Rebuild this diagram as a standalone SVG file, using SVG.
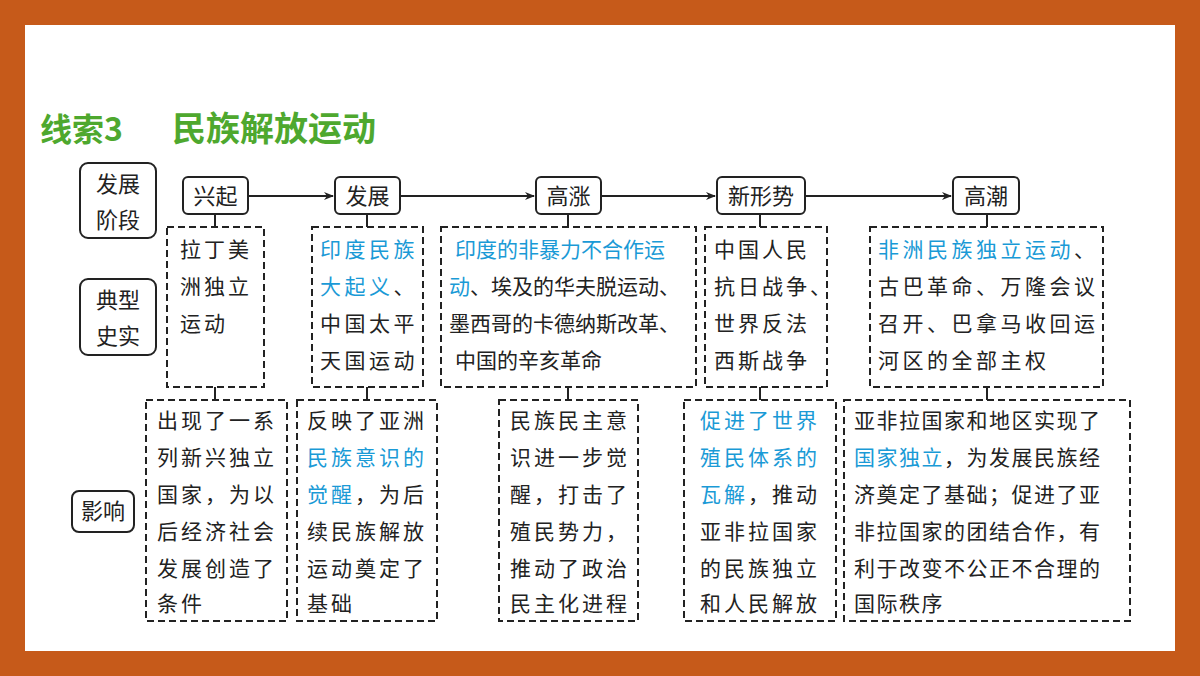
<svg xmlns="http://www.w3.org/2000/svg" width="1200" height="676" viewBox="0 0 1200 676">
<defs>
<style>
.t{font-family:"Noto Sans CJK SC","Liberation Sans",sans-serif;font-size:21px;fill:#222}
.b{fill:#1A9AD6}
.solid{fill:#fff;stroke:#222;stroke-width:2}
.dash{fill:#fff;stroke:#222;stroke-width:2;stroke-dasharray:7 4}
.ln{stroke:#222;stroke-width:2;fill:none}
.h{font-family:"Noto Sans CJK SC","Liberation Sans",sans-serif;font-size:22px;fill:#222;text-anchor:middle}
</style>
<marker id="ar" markerWidth="10" markerHeight="8" refX="9" refY="4" orient="auto" markerUnits="userSpaceOnUse"><path d="M0,0 L10,4 L0,8 L3,4 z" fill="#222"/></marker>
</defs>
<rect width="1200" height="676" fill="#C65A1A"/>
<rect x="25" y="25" width="1150" height="626" fill="#fff"/>
<text x="40" y="141" font-family="Noto Sans CJK SC,sans-serif" font-size="32" font-weight="bold" fill="#4EA82E">线索3</text>
<text x="172" y="141" font-family="Noto Sans CJK SC,sans-serif" font-size="34" font-weight="bold" fill="#4EA82E">民族解放运动</text>
<g id="connectors">
<path class="ln" d="M248,196 H333" marker-end="url(#ar)"/>
<path class="ln" d="M400,196 H534" marker-end="url(#ar)"/>
<path class="ln" d="M601,196 H715" marker-end="url(#ar)"/>
<path class="ln" d="M805,196 H951" marker-end="url(#ar)"/>
<path class="ln" d="M215,214 V227 M367,214 V227 M568,214 V227 M760,214 V227 M987,214 V227"/>
<path class="ln" d="M215,387 V400 M367,387 V400 M568,387 V400 M760,387 V400 M987,387 V400"/>
</g>
<g id="lab1"><rect class="solid" x="80" y="163" width="76" height="75" rx="8"/><text class="h" x="118" y="192">发展</text><text class="h" x="118" y="228">阶段</text></g>
<g id="lab2"><rect class="solid" x="80" y="279" width="76" height="76" rx="8"/><text class="h" x="118" y="308">典型</text><text class="h" x="118" y="344">史实</text></g>
<g id="lab3"><rect class="solid" x="72" y="491" width="62" height="41" rx="7"/><text class="h" x="103" y="519">影响</text></g>
<g id="s1"><rect class="solid" x="183" y="177" width="65" height="37" rx="5"/><text class="h" x="215.5" y="204">兴起</text></g>
<g id="s2"><rect class="solid" x="335" y="177" width="65" height="37" rx="5"/><text class="h" x="367.5" y="204">发展</text></g>
<g id="s3"><rect class="solid" x="536" y="177" width="65" height="37" rx="5"/><text class="h" x="568.5" y="204">高涨</text></g>
<g id="s4"><rect class="solid" x="717" y="177" width="88" height="37" rx="5"/><text class="h" x="761" y="204">新形势</text></g>
<g id="s5"><rect class="solid" x="953" y="177" width="66" height="37" rx="5"/><text class="h" x="986" y="204">高潮</text></g>
<g id="f1"><rect class="dash" x="167" y="227" width="97" height="160"/>
<text class="t" letter-spacing="3"><tspan x="180" y="257">拉丁美</tspan><tspan x="180" y="294">洲独立</tspan><tspan x="180" y="331">运动</tspan></text></g>
<g id="f2"><rect class="dash" x="312" y="227" width="111" height="160"/>
<text class="t" letter-spacing="3.5"><tspan x="320" y="257" class="b">印度民族</tspan><tspan x="320" y="294"><tspan class="b">大起义</tspan>、</tspan><tspan x="320" y="331">中国太平</tspan><tspan x="320" y="368">天国运动</tspan></text></g>
<g id="f3"><rect class="dash" x="441" y="227" width="255" height="160"/>
<text class="t" letter-spacing="0"><tspan x="455" y="257" class="b">印度的非暴力不合作运</tspan><tspan x="449" y="294"><tspan class="b">动</tspan>、埃及的华夫脱运动、</tspan><tspan x="449" y="331">墨西哥的卡德纳斯改革、</tspan><tspan x="455" y="368">中国的辛亥革命</tspan></text></g>
<g id="f4"><rect class="dash" x="705" y="227" width="122" height="160"/>
<text class="t" letter-spacing="3"><tspan x="714" y="257">中国人民</tspan><tspan x="714" y="294">抗日战争、</tspan><tspan x="714" y="331">世界反法</tspan><tspan x="714" y="368">西斯战争</tspan></text></g>
<g id="f5"><rect class="dash" x="870" y="227" width="233" height="160"/>
<text class="t" letter-spacing="3.5"><tspan x="878" y="257"><tspan class="b">非洲民族独立运动</tspan>、</tspan><tspan x="878" y="294">古巴革命、万隆会议</tspan><tspan x="878" y="331">召开、巴拿马收回运</tspan><tspan x="878" y="368">河区的全部主权</tspan></text></g>
<g id="i1"><rect class="dash" x="146" y="400" width="141" height="221"/>
<text class="t" letter-spacing="3"><tspan x="157" y="428">出现了一系</tspan><tspan x="157" y="465">列新兴独立</tspan><tspan x="157" y="502">国家，为以</tspan><tspan x="157" y="539">后经济社会</tspan><tspan x="157" y="576">发展创造了</tspan><tspan x="157" y="611">条件</tspan></text></g>
<g id="i2"><rect class="dash" x="297" y="400" width="140" height="221"/>
<text class="t" letter-spacing="3"><tspan x="307" y="428">反映了亚洲</tspan><tspan x="307" y="465" class="b">民族意识的</tspan><tspan x="307" y="502"><tspan class="b">觉醒</tspan>，为后</tspan><tspan x="307" y="539">续民族解放</tspan><tspan x="307" y="576">运动奠定了</tspan><tspan x="307" y="611">基础</tspan></text></g>
<g id="i3"><rect class="dash" x="499" y="400" width="139" height="221"/>
<text class="t" letter-spacing="3"><tspan x="510" y="428">民族民主意</tspan><tspan x="510" y="465">识进一步觉</tspan><tspan x="510" y="502">醒，打击了</tspan><tspan x="510" y="539">殖民势力，</tspan><tspan x="510" y="576">推动了政治</tspan><tspan x="510" y="611">民主化进程</tspan></text></g>
<g id="i4"><rect class="dash" x="684" y="400" width="152" height="221"/>
<text class="t" letter-spacing="3"><tspan x="700" y="428" class="b">促进了世界</tspan><tspan x="700" y="465" class="b">殖民体系的</tspan><tspan x="700" y="502"><tspan class="b">瓦解</tspan>，推动</tspan><tspan x="700" y="539">亚非拉国家</tspan><tspan x="700" y="576">的民族独立</tspan><tspan x="700" y="611">和人民解放</tspan></text></g>
<g id="i5"><rect class="dash" x="844" y="400" width="286" height="221"/>
<text class="t" letter-spacing="1.5"><tspan x="854" y="428">亚非拉国家和地区实现了</tspan><tspan x="854" y="465"><tspan class="b">国家独立</tspan>，为发展民族经</tspan><tspan x="854" y="502">济奠定了基础；促进了亚</tspan><tspan x="854" y="539">非拉国家的团结合作，有</tspan><tspan x="854" y="576">利于改变不公正不合理的</tspan><tspan x="854" y="611">国际秩序</tspan></text></g>
</svg>
